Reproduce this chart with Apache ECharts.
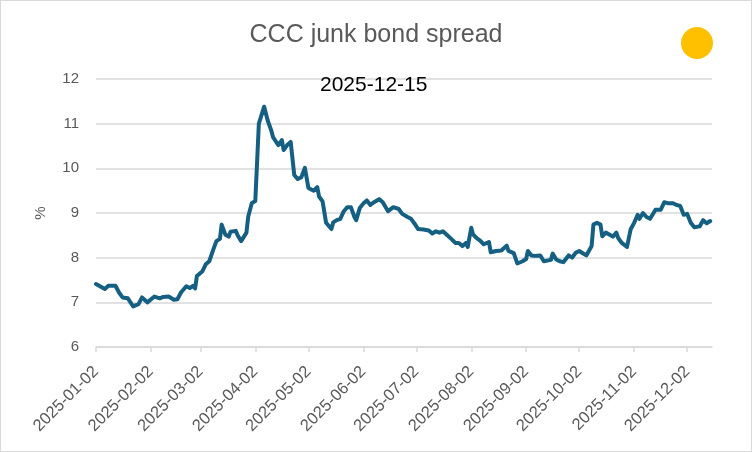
<!DOCTYPE html>
<html>
<head>
<meta charset="utf-8">
<script src="https://cdn.jsdelivr.net/npm/echarts@6/dist/echarts.min.js"></script>
<style>
  html, body { margin: 0; padding: 0; background: #fff; }
  #chart { width: 752px; height: 452px; box-sizing: border-box; border: 1px solid #d9d9d9; }
</style>
</head>
<body>
<div id="chart"></div>
<script>
const chartTitle = 'CCC junk bond spread';
const subTitle = '2025-12-15';
const tickLabels = ['2025-01-02','2025-02-02','2025-03-02','2025-04-02','2025-05-02','2025-06-02',
  '2025-07-02','2025-08-02','2025-09-02','2025-10-02','2025-11-02','2025-12-02'];
const axisEndDate = '2025-12-16';
const dates = [
  '2025-01-02','2025-01-07','2025-01-09','2025-01-10','2025-01-13','2025-01-15','2025-01-17','2025-01-20','2025-01-23','2025-01-26',
  '2025-01-28','2025-01-31','2025-02-04','2025-02-07','2025-02-09','2025-02-12','2025-02-15','2025-02-17','2025-02-19','2025-02-20',
  '2025-02-22','2025-02-24','2025-02-26','2025-02-27','2025-02-28','2025-03-03','2025-03-05','2025-03-07','2025-03-09','2025-03-11',
  '2025-03-13','2025-03-14','2025-03-16','2025-03-18','2025-03-19','2025-03-22','2025-03-23','2025-03-25','2025-03-26','2025-03-28',
  '2025-03-29','2025-03-31','2025-04-02','2025-04-04','2025-04-07','2025-04-09','2025-04-11','2025-04-12','2025-04-15','2025-04-17',
  '2025-04-18','2025-04-20','2025-04-22','2025-04-24','2025-04-26','2025-04-28','2025-04-30','2025-05-02','2025-05-05','2025-05-07',
  '2025-05-08','2025-05-10','2025-05-12','2025-05-15','2025-05-16','2025-05-18','2025-05-20','2025-05-22','2025-05-24','2025-05-26',
  '2025-05-28','2025-05-29','2025-05-31','2025-06-02','2025-06-04','2025-06-06','2025-06-08','2025-06-11','2025-06-13','2025-06-16',
  '2025-06-19','2025-06-22','2025-06-24','2025-06-27','2025-06-29','2025-07-01','2025-07-03','2025-07-06','2025-07-09','2025-07-11',
  '2025-07-13','2025-07-15','2025-07-17','2025-07-19','2025-07-22','2025-07-24','2025-07-26','2025-07-28','2025-07-30','2025-07-31',
  '2025-08-02','2025-08-03','2025-08-05','2025-08-07','2025-08-09','2025-08-12','2025-08-13','2025-08-16','2025-08-19','2025-08-22',
  '2025-08-23','2025-08-26','2025-08-28','2025-08-29','2025-08-31','2025-09-02','2025-09-03','2025-09-05','2025-09-07','2025-09-10',
  '2025-09-12','2025-09-13','2025-09-16','2025-09-17','2025-09-19','2025-09-21','2025-09-23','2025-09-26','2025-09-28','2025-09-30',
  '2025-10-02','2025-10-04','2025-10-06','2025-10-09','2025-10-10','2025-10-12','2025-10-14','2025-10-15','2025-10-17','2025-10-19',
  '2025-10-21','2025-10-23','2025-10-24','2025-10-26','2025-10-29','2025-10-30','2025-10-31','2025-11-02','2025-11-04','2025-11-05',
  '2025-11-07','2025-11-09','2025-11-11','2025-11-13','2025-11-14','2025-11-17','2025-11-19','2025-11-21','2025-11-24','2025-11-26',
  '2025-11-28','2025-11-29','2025-11-30','2025-12-02','2025-12-04','2025-12-06','2025-12-09','2025-12-11','2025-12-13','2025-12-14',
  '2025-12-15'
];
const spread = [
  7.41,7.30,7.37,7.33,7.37,7.22,7.11,7.09,6.91,6.96,
  7.11,7.00,7.13,7.09,7.12,7.13,7.06,7.07,7.22,7.24,
  7.36,7.32,7.37,7.31,7.59,7.69,7.85,7.92,8.15,8.37,
  8.42,8.74,8.52,8.47,8.58,8.60,8.50,8.37,8.37,8.56,
  8.92,9.22,9.27,11.00,11.38,11.07,10.85,10.70,10.52,10.63,
  10.41,10.52,10.59,9.85,9.76,9.80,10.01,9.56,9.50,9.58,
  9.37,9.26,8.78,8.64,8.79,8.84,8.87,9.04,9.13,9.13,
  8.91,8.84,9.11,9.21,9.28,9.18,9.24,9.31,9.24,9.04,
  9.13,9.09,8.98,8.91,8.87,8.76,8.64,8.63,8.61,8.54,
  8.59,8.56,8.59,8.52,8.41,8.33,8.33,8.26,8.33,8.24,
  8.67,8.52,8.44,8.38,8.30,8.35,8.12,8.15,8.16,8.27,
  8.15,8.10,7.87,7.84,7.92,7.97,8.15,8.05,8.04,8.05,
  7.92,7.96,7.95,8.09,7.96,7.92,7.90,8.05,8.00,8.11,
  8.15,8.10,8.05,8.26,8.74,8.78,8.74,8.48,8.56,8.52,
  8.47,8.56,8.44,8.33,8.24,8.22,8.63,8.78,8.96,8.87,
  9.00,8.91,8.87,9.00,9.07,9.07,9.24,9.22,9.22,9.18,
  9.16,9.18,8.96,8.98,8.78,8.68,8.70,8.84,8.77,8.79,
  8.82
];

const DAY = 86400000;
const t0 = Date.parse(tickLabels[0]);
const dayOf = d => Math.round((Date.parse(d) - t0) / DAY);
const tickPos = tickLabels.map(dayOf);
const seriesData = dates.map((d, i) => [dayOf(d), spread[i]]);

const FONT = 'Liberation Sans, Arial, sans-serif';
const GRAY = '#595959';
const LINEGRAY = '#d9d9d9';

const chart = echarts.init(document.getElementById('chart'), null, { renderer: 'canvas' });
chart.setOption({
  animation: false,
  textStyle: { fontFamily: FONT },
  title: [
    { text: chartTitle, left: 'center', top: 17,
      textStyle: { fontFamily: FONT, fontSize: 25, fontWeight: 'normal', color: GRAY } },
    { text: subTitle, left: 314, top: 69,
      textStyle: { fontFamily: FONT, fontSize: 21, fontWeight: 'normal', color: '#000' } }
  ],
  graphic: [
    { type: 'circle', shape: { cx: 696, cy: 42, r: 16 }, style: { fill: '#FFC000' }, silent: true }
  ],
  grid: { left: 95, right: 39, top: 78, bottom: 104, containLabel: false },
  xAxis: {
    type: 'value',
    min: 0,
    max: dayOf(axisEndDate),
    axisLine: { show: true, lineStyle: { color: LINEGRAY, width: 1.5 } },
    axisTick: { show: true, customValues: tickPos, length: 5, lineStyle: { color: LINEGRAY, width: 1.5 } },
    axisLabel: {
      customValues: tickPos,
      rotate: 45,
      margin: 22,
      color: GRAY,
      fontSize: 16.5,
      fontFamily: FONT,
      formatter: v => { const i = tickPos.indexOf(Math.round(v)); return i >= 0 ? tickLabels[i] : ''; }
    },
    splitLine: { show: false }
  },
  yAxis: {
    type: 'value',
    min: 6, max: 12, interval: 1,
    name: '%',
    nameLocation: 'middle',
    nameGap: 48,
    nameRotate: 90,
    nameTextStyle: { color: GRAY, fontSize: 15, fontFamily: FONT },
    axisLine: { show: false },
    axisTick: { show: false },
    axisLabel: { color: GRAY, fontSize: 15, fontFamily: FONT, margin: 17 },
    splitLine: { lineStyle: { color: LINEGRAY, width: 1.5 } }
  },
  series: [{
    type: 'line',
    data: seriesData,
    showSymbol: false,
    symbol: 'none',
    lineStyle: { color: '#156082', width: 4, join: 'round', cap: 'round' },
    itemStyle: { color: '#156082' }
  }]
});
</script>
</body>
</html>
